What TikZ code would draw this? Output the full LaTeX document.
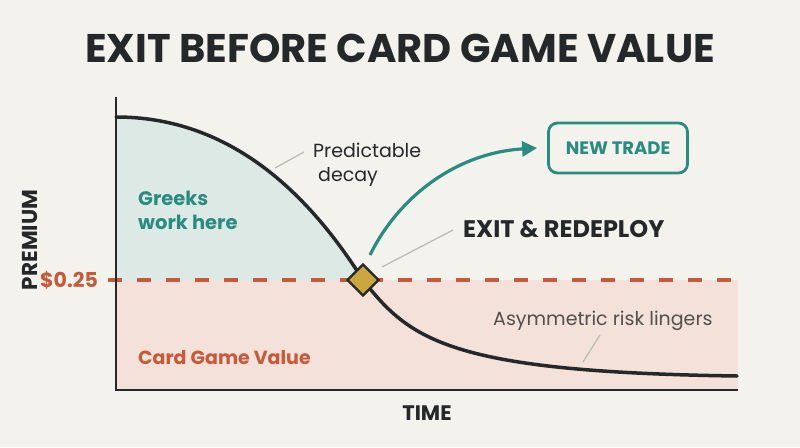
\documentclass[tikz,border=0pt]{standalone}
\usepackage{fontspec}
\setmainfont{Poppins}
\usetikzlibrary{arrows.meta,shapes.geometric}
\definecolor{bg}{HTML}{F3F2ED}
\definecolor{dark}{HTML}{25282B}
\definecolor{tealc}{HTML}{2A8C80}
\definecolor{tealfill}{HTML}{DCE9E4}
\definecolor{pinkfill}{HTML}{F4E1D9}
\definecolor{orangec}{HTML}{C65A3A}
\definecolor{goldc}{HTML}{C9A640}
\definecolor{leadc}{HTML}{BDBDB8}
\definecolor{graytext}{HTML}{505050}
\tikzset{
  leader/.style={draw=leadc, line width=1.3pt},
  axisline/.style={draw=dark, line width=2pt},
  curveline/.style={draw=dark, line width=3.5pt, line cap=round},
  boldlbl/.style={font=\bfseries\fontsize{19}{22}\selectfont, inner sep=0pt},
  thinlbl/.style={font=\fontsize{19}{24}\selectfont, inner sep=0pt, align=left},
}
\begin{document}
\begin{tikzpicture}[x=1pt,y=-1pt]
\fill[bg] (0,0) rectangle (800,447);
\useasboundingbox (0,0) rectangle (800,447);
% regions
\fill[pinkfill] (116,280) rectangle (738,390);
\fill[tealfill] (116,280) -- (116,117) .. controls (220,117) and (300,180) .. (363,280) -- cycle;
% threshold
\draw[orangec, line width=3.2pt, dash pattern=on 14pt off 15pt] (108,280) -- (738,280);
% axes
\draw[axisline] (116,97) -- (116,390) -- (738,390);
% curve
\draw[curveline] (116,117) .. controls (220,117) and (300,180) .. (363,280)
                 .. controls (410,340) and (450,372) .. (737,376);
% title
\node[font=\bfseries\fontsize{40}{46}\selectfont, text=dark] (title) at (400,48) {EXIT BEFORE CARD GAME VALUE};
% axis labels
\node[boldlbl, text=dark, rotate=90, font=\bfseries\fontsize{21.5}{24}\selectfont] (prem) at (30,240) {PREMIUM};
\node[boldlbl, text=dark, font=\bfseries\fontsize{21}{24}\selectfont] (time) at (427,413) {TIME};
\node[boldlbl, text=orangec, anchor=west, font=\bfseries\fontsize{20.5}{24}\selectfont] (price) at (40,280) {\$0.25};
% region labels
\node[boldlbl, text=tealc, anchor=north west, align=left, font=\bfseries\fontsize{19.5}{24}\selectfont] (greeks) at (138,191) {Greeks\\work here};
\node[boldlbl, text=orangec, anchor=west] (card) at (138,358) {Card Game Value};
% predictable decay
\node[thinlbl, text=dark, anchor=north west] (pd) at (313,143) {Predictable\\\hspace*{5pt}decay};
\coordinate (pdA) at (275,168);
\coordinate (pdB) at (304,152);
\draw[leader] (pdA) -- (pdB);
% exit diamond
\node[diamond, draw=dark, fill=goldc, line width=2.2pt, minimum size=32pt, inner sep=0pt] (exit) at (363,280) {};
% exit label
\node[boldlbl, text=dark, anchor=west, font=\bfseries\fontsize{24}{28}\selectfont] (exitlbl) at (463,229) {EXIT \& REDEPLOY};
\coordinate (exA) at (382,267);
\coordinate (exB) at (453,230);
\draw[leader] (exA) -- (exB);
% new trade
\node[draw=tealc, line width=2.8pt, rounded corners=9pt, minimum width=139pt, minimum height=50pt, text=tealc, font=\bfseries\fontsize{18}{21}\selectfont] (newtrade) at (618,148) {NEW TRADE};
\draw[tealc, line width=3.2pt, -{Triangle[length=15pt,width=15pt]}] ([xshift=7pt,yshift=25pt]exit.center) .. controls (398,198) and (455,153) .. ([xshift=-10pt]newtrade.west);
% asymmetric risk
\node[thinlbl, text=graytext, anchor=base west] (asym) at (493,325) {Asymmetric risk lingers};
\coordinate (asA) at (600,335);
\coordinate (asB) at (583,362);
\draw[leader] (asA) -- (asB);
\end{tikzpicture}
\end{document}
